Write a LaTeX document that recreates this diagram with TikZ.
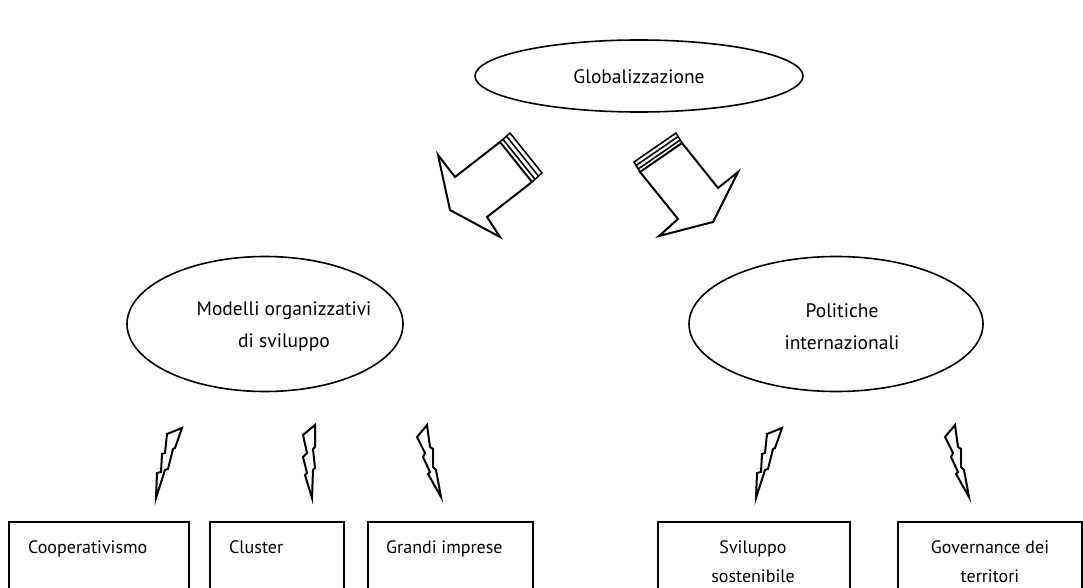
\documentclass[tikz,border=0pt]{standalone}
\usepackage{fontspec}
\setmainfont{PT Sans}
\usetikzlibrary{shapes.geometric}
\begin{document}
\begin{tikzpicture}[x=1pt,y=-1pt,
  ell/.style={draw, line width=1.6pt, ellipse, inner sep=0pt},
  elltext/.style={align=center, inner sep=0pt, font=\fontsize{19.5}{32}\selectfont},
  boxframe/.style={draw, line width=1.7pt, rectangle, anchor=north west, minimum height=110pt, inner sep=0pt},
  boxtext/.style={font=\fontsize{18}{29}\selectfont, align=center, inner sep=0pt},
  shapeline/.style={draw, line width=2pt, line join=miter, fill=white},
  stripe/.style={line width=1.6pt},
  boltA/.pic={\draw[shapeline] (26,-70) -- (11,-64) -- (9,-45) -- (6,-44) -- (5,-26) -- (1,-25) -- (0,0) -- (9,-28) -- (12,-29) -- (17,-49) -- (19,-50) -- cycle;},
  boltB/.pic={\draw[shapeline] (3,-73) -- (-9,-63) -- (-5,-45) -- (-9,-41) -- (-5,-25) -- (-7,-23) -- (0,0) -- (1,-28) -- (3,-30) -- (1,-49) -- (3,-51) -- cycle;},
  boltC/.pic={\draw[shapeline] (-14,-72) -- (-24,-60) -- (-16,-44) -- (-18,-40) -- (-11,-25) -- (-13,-23) -- (0,0) -- (-5,-27) -- (-8,-30) -- (-8,-48) -- (-11,-50) -- cycle;}
]
\useasboundingbox (0,0) rectangle (1083,588);
\clip (0,0) rectangle (1083,588);

% ellipses
\node[ell, minimum width=328pt, minimum height=72pt] (glob) at (639,76) {};
\node[elltext] (globt) at (639,77) {Globalizzazione};
\node[ell, minimum width=276pt, minimum height=135pt] (mod) at (265,324) {};
\node[elltext] (modt) at (284,327) {Modelli organizzativi\\di sviluppo};
\node[ell, minimum width=294pt, minimum height=135pt] (pol) at (836,324) {};
\node[elltext] (polt) at (842,327) {Politiche\\internazionali};

% left block arrow
\draw[shapeline] (500,142) -- (532,182) -- (487,217) -- (500,237) -- (450,210) -- (438,155) -- (455,177) -- cycle;
\draw[stripe] (500,142) -- (510,133) -- (542,173) -- (532,182);
\draw[stripe] (503,139.3) -- (535,179.3);
\draw[stripe] (506.5,136.2) -- (538.5,176.2);

% right block arrow
\draw[shapeline] (640,172) -- (678,219) -- (659,236) -- (713,222) -- (738,172) -- (718,188) -- (682,143) -- cycle;
\draw[stripe] (640,172) -- (634,162) -- (676,133) -- (682,143);
\draw[stripe] (638.2,169) -- (680.2,140);
\draw[stripe] (636.1,165.5) -- (678.1,136.5);

% lightning bolts
\pic at (156,498) {boltA};
\pic at (312,498) {boltB};
\pic at (441,497) {boltC};
\pic at (756,498) {boltA};
\pic at (969,497) {boltC};

% boxes
\node[boxframe, minimum width=180pt] (b1) at (8,521) {};
\node[boxframe, minimum width=134pt] (b2) at (209,521) {};
\node[boxframe, minimum width=165pt] (b3) at (367,521) {};
\node[boxframe, minimum width=192pt] (b4) at (657,521) {};
\node[boxframe, minimum width=184pt] (b5) at (897,521) {};

\node[boxtext, anchor=base west] (t1) at (28,553) {Cooperativismo};
\node[boxtext, anchor=base west] (t2) at (229,553) {Cluster};
\node[boxtext, anchor=base west] (t3) at (386,553) {Grandi imprese};
\node[boxtext] (t4) at (753,562) {Sviluppo\\sostenibile};
\node[boxtext] (t5) at (990,562) {Governance dei\\territori};
\end{tikzpicture}
\end{document}
